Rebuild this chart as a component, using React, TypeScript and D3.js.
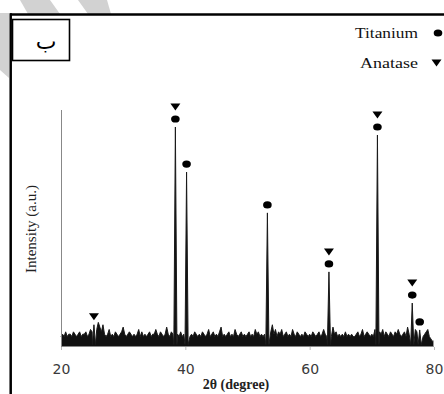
import React, { useEffect, useRef } from "react"
import * as d3 from "d3"

// background counts, 2θ = 20..80 every 0.25°
const NOISE_START = 20
const NOISE_STEP = 0.25
const noise = [
  4, 5, 4, 6, 4, 5, 5, 4, 6, 5, 4, 5, 6, 4, 5, 5, 6, 4, 5, 7,
  6, 8, 9, 7, 10, 8, 6, 9, 5, 4, 5, 7, 4, 5, 4, 6, 5, 4, 5, 6,
  8, 5, 4, 5, 6, 5, 4, 5, 4, 5, 7, 4, 6, 4, 5, 4, 5, 6, 4, 5,
  5, 7, 5, 4, 6, 5, 4, 5, 8, 5, 4, 6, 5, 7, 4, 5, 4, 6, 4, 5,
  4, 5, 6, 4, 5, 4, 6, 5, 4, 5, 4, 6, 5, 4, 5, 7, 4, 5, 6, 4,
  5, 4, 6, 8, 4, 5, 4, 5, 6, 4, 5, 4, 7, 5, 4, 5, 6, 4, 5, 4,
  5, 6, 4, 5, 4, 7, 5, 6, 4, 5, 4, 5, 4, 5, 8, 6, 9, 5, 7, 4,
  6, 5, 7, 4, 5, 6, 4, 5, 4, 7, 5, 4, 6, 5, 4, 5, 4, 6, 5, 4,
  5, 4, 6, 5, 4, 5, 6, 4, 5, 7, 5, 4, 5, 6, 4, 8, 5, 6, 4, 5,
  4, 5, 4, 6, 4, 5, 4, 5, 4, 4, 5, 6, 4, 5, 7, 4, 5, 6, 5, 4,
  5, 4, 7, 4, 9, 6, 5, 7, 4, 6, 5, 4, 6, 5, 4, 6, 5, 7, 5, 4,
  5, 6, 4, 8, 5, 4, 6, 5, 7, 6, 8, 5, 7, 4, 5, 6, 7, 4, 3, 2,
  2,
]

// reflections
const peakPos = [25.3, 38.4, 40.2, 53.2, 63.1, 70.9, 76.5, 77.7]
const peakHeight = [9, 92.8, 73.7, 56.4, 31.4, 89.4, 18.2, 6.8]
const peakPhases = [["A"], ["Ti", "A"], ["Ti"], ["Ti"], ["Ti", "A"], ["Ti", "A"], ["Ti", "A"], ["Ti"]]

const xTicks = [20, 40, 60, 80]
const legendLabels = ["Titanium", "Anatase"]
const legendPhases = ["Ti", "A"]

const W = 444
const H = 394
const MARGIN = { top: 110, right: 10, bottom: 48, left: 61 }

type Pt = [number, number]

export default function App() {
  const svgRef = useRef<SVGSVGElement>(null)

  useEffect(() => {
    const svg = d3.select(svgRef.current)
    svg.selectAll("*").remove()

    const x = d3.scaleLinear().domain([20, 80]).range([MARGIN.left, W - MARGIN.right])
    const y = d3.scaleLinear().domain([0, 100]).range([H - MARGIN.bottom, MARGIN.top])

    // watermark stripes
    const wm = svg.append("g").attr("fill", "#d2d2d2")
    wm.append("polygon").attr("points", "20,0 50,0 60,14 28,14")
    wm.append("polygon").attr("points", "78,0 107,0 111,14 88,14")
    wm.append("polygon").attr("points", "0,13 9,13 9,78 0,70")

    // outer frame
    svg.append("line").attr("x1", 10).attr("x2", W).attr("y1", 14.5).attr("y2", 14.5)
      .attr("stroke", "#000").attr("stroke-width", 2.5)
    svg.append("line").attr("x1", 10.7).attr("x2", 10.7).attr("y1", 13.3).attr("y2", H)
      .attr("stroke", "#000").attr("stroke-width", 2.5)

    // label box
    svg.append("rect").attr("x", 12.5).attr("y", 19.5).attr("width", 57).attr("height", 41)
      .attr("fill", "#fff").attr("stroke", "#000").attr("stroke-width", 1.6)
    svg.append("text").attr("x", 46).attr("y", 49).attr("text-anchor", "middle")
      .attr("font-size", 22).attr("font-family", "'DejaVu Sans', serif").attr("fill", "#000")
      .text("ب")

    // build profile: background + sharp reflections
    const pts: Pt[] = []
    noise.forEach((v, i) => {
      const t = NOISE_START + i * NOISE_STEP
      if (peakPos.every((p) => Math.abs(t - p) > 0.3)) pts.push([t, v])
    })
    peakPos.forEach((p, i) => {
      pts.push([p - 0.25, 0.6], [p, peakHeight[i]], [p + 0.25, 0.6])
    })
    pts.sort((a, b) => a[0] - b[0])

    const area = d3.area<Pt>().x((d) => x(d[0])).y0(y(0)).y1((d) => y(d[1]))
    const line = d3.line<Pt>().x((d) => x(d[0])).y((d) => y(d[1]))

    svg.append("path").datum(pts).attr("d", area).attr("fill", "#111")
    svg.append("path").datum(pts).attr("d", line).attr("fill", "none")
      .attr("stroke", "#1a1a1a").attr("stroke-width", 1)

    // axes
    svg.append("line").attr("x1", x(20)).attr("x2", x(80)).attr("y1", y(0) + 0.5).attr("y2", y(0) + 0.5)
      .attr("stroke", "#888").attr("stroke-width", 1)
    svg.append("line").attr("x1", x(20) + 0.5).attr("x2", x(20) + 0.5).attr("y1", y(100)).attr("y2", y(0) + 4)
      .attr("stroke", "#888").attr("stroke-width", 1)
    svg.append("line").attr("x1", x(80) - 0.5).attr("x2", x(80) - 0.5).attr("y1", y(0) - 5).attr("y2", y(0) + 1)
      .attr("stroke", "#999").attr("stroke-width", 1)

    svg.append("g")
      .attr("transform", `translate(0,${y(0) + 1})`)
      .call(d3.axisBottom(x).tickValues(xTicks).tickSize(3).tickPadding(14).tickFormat((d) => `${d}`))
      .call((g) => g.select(".domain").remove())
      .call((g) => g.selectAll(".tick line").attr("stroke", "#bbb"))
      .call((g) =>
        g.selectAll("text")
          .attr("fill", "#3a3a3a")
          .attr("font-size", 14)
          .attr("font-family", "'DejaVu Sans', sans-serif")
      )

    svg.append("text")
      .attr("x", 236).attr("y", 389).attr("text-anchor", "middle")
      .attr("font-size", 14).attr("font-weight", "bold")
      .attr("font-family", "'Liberation Serif', serif").attr("fill", "#222")
      .text("2θ (degree)")

    svg.append("text")
      .attr("transform", `translate(36,229) rotate(-90)`)
      .attr("text-anchor", "middle")
      .attr("font-size", 14)
      .attr("textLength", 88).attr("lengthAdjust", "spacingAndGlyphs")
      .attr("font-family", "'Liberation Serif', serif").attr("fill", "#222")
      .text("Intensity (a.u.)")

    // phase markers
    const drawMarker = (g: d3.Selection<SVGGElement, unknown, null, undefined>, phase: string, cx: number, cy: number) => {
      if (phase === "Ti") {
        g.append("ellipse").attr("cx", cx).attr("cy", cy).attr("rx", 4.3).attr("ry", 3.6).attr("fill", "#000")
      } else {
        g.append("path")
          .attr("d", `M${cx - 5},${cy - 3.5}L${cx + 5},${cy - 3.5}L${cx},${cy + 3.5}Z`)
          .attr("fill", "#000")
      }
    }

    const markers = svg.append("g")
    peakPos.forEach((p, i) => {
      let cy = y(peakHeight[i]) - 8
      peakPhases[i].forEach((ph) => {
        drawMarker(markers, ph, x(p), cy)
        cy -= 12
      })
    })

    // legend
    const legend = svg.append("g")
    legendLabels.forEach((lbl, i) => {
      const cy = 33 + i * 30
      legend.append("text")
        .attr("x", 418).attr("y", cy + 5).attr("text-anchor", "end")
        .attr("font-size", 15).attr("font-family", "'Liberation Serif', serif").attr("fill", "#111")
        .attr("textLength", i === 0 ? 63 : 58).attr("lengthAdjust", "spacingAndGlyphs")
        .text(lbl)
      drawMarker(legend, legendPhases[i], legendPhases[i] === "Ti" ? 438 : 436.5, cy)
    })
  }, [])

  return (
    <svg
      ref={svgRef}
      width={W}
      height={H}
      style={{ position: "absolute", left: 0, top: 0, background: "#fff", display: "block" }}
    />
  )
}
